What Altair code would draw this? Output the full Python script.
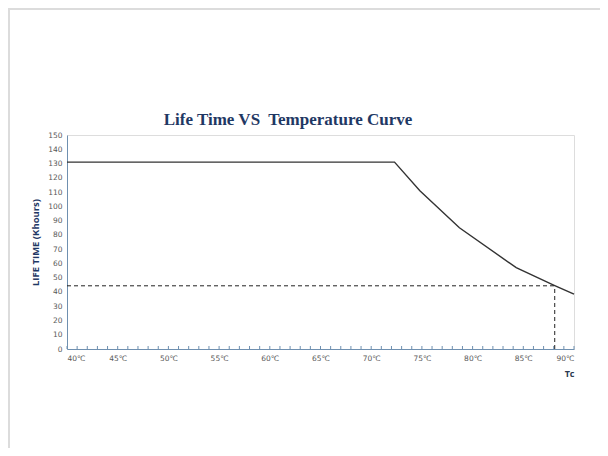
import altair as alt
import pandas as pd

# Curve data
temps = [40, 72.3, 74.8, 78.7, 84.3, 88.1, 90]
life = [131, 131, 111, 85, 57, 44.5, 38.5]

# Marked operating point (dashed guide lines)
mark_temp = 88.1
mark_life = 44.3

x_label_values = [40, 45, 50, 55, 60, 65, 70, 75, 80, 85, 90]
y_label_values = [0, 10, 20, 30, 40, 50, 60, 70, 80, 90, 100, 110, 120, 130, 140, 150]
minor_ticks = list(range(40, 91))
chart_title = "Life Time VS\u00a0 Temperature Curve"

W, H = 507, 214
AXIS_COLOR = "#6f90b0"
NAVY = "#1f3864"

curve_df = pd.DataFrame({"t": temps, "life": life})
hdash_df = pd.DataFrame({"t": [40], "t2": [mark_temp], "life": [mark_life]})
vdash_df = pd.DataFrame({"t": [mark_temp], "life": [0], "life2": [mark_life]})
tick_df = pd.DataFrame({"t": minor_ticks})

xscale = alt.Scale(domain=[40, 90], nice=False, zero=False)
yscale = alt.Scale(domain=[0, 150], nice=False)

xaxis = alt.Axis(
    values=x_label_values,
    labelExpr="datum.value + '℃'",
    labelOverlap=False,
    ticks=False,
    grid=False,
    domainColor=AXIS_COLOR,
    labelColor="#595959",
    labelFont="DejaVu Sans",
    labelFontSize=7.5,
    labelPadding=5,
    title="Tc",
    titleAnchor="end",
    titleFont="Open Sans",
    titleFontSize=9,
    titleFontWeight="bold",
    titleColor="#2b3a4f",
    titlePadding=8,
)
yaxis = alt.Axis(
    values=y_label_values,
    labelOverlap=False,
    tickCount=16,
    ticks=False,
    grid=False,
    domainColor=AXIS_COLOR,
    labelColor="#595959",
    labelFont="DejaVu Sans",
    labelFontSize=7.5,
    labelPadding=5,
    title="LIFE TIME (Khours)",
    titleFont="Open Sans",
    titleFontSize=9.5,
    titleFontWeight="bold",
    titleColor=NAVY,
    titlePadding=7,
)

curve = alt.Chart(curve_df).mark_line(color="#333333", strokeWidth=1.4).encode(
    x=alt.X("t:Q", scale=xscale, axis=xaxis),
    y=alt.Y("life:Q", scale=yscale, axis=yaxis),
)

hdash = alt.Chart(hdash_df).mark_rule(color="#222222", strokeWidth=1, strokeDash=[4, 3]).encode(
    x=alt.X("t:Q", scale=xscale, axis=xaxis),
    x2="t2:Q",
    y=alt.Y("life:Q", scale=yscale, axis=yaxis),
)
vdash = alt.Chart(vdash_df).mark_rule(color="#222222", strokeWidth=1, strokeDash=[4, 3]).encode(
    x=alt.X("t:Q", scale=xscale, axis=xaxis),
    y=alt.Y("life:Q", scale=yscale, axis=yaxis),
    y2="life2:Q",
)

ticks = alt.Chart(tick_df).mark_rule(color=AXIS_COLOR, strokeWidth=1).encode(
    x=alt.X("t:Q", scale=xscale, axis=xaxis),
    y=alt.value(H - 3),
    y2=alt.value(H),
)

one = pd.DataFrame({"a": [0]})

# chart title as a text mark (page frame would push a regular title off the page)
title = alt.Chart(pd.DataFrame({"title": [chart_title]})).mark_text(
    font="Liberation Serif",
    fontSize=17,
    fontWeight="bold",
    color=NAVY,
    align="center",
    baseline="alphabetic",
).encode(text="title:N", x=alt.value(221), y=alt.value(-10))

# light gray page frame (decoration)
frame_top = alt.Chart(one).mark_rule(color="#dcdcdc", strokeWidth=2).encode(
    x=alt.value(-58), x2=alt.value(540), y=alt.value(-126)
)
frame_left = alt.Chart(one).mark_rule(color="#dcdcdc", strokeWidth=2).encode(
    x=alt.value(-58), y=alt.value(-127), y2=alt.value(320)
)

chart = (
    alt.layer(curve, frame_top, frame_left, title, ticks, hdash, vdash)
    .properties(
        width=W,
        height=H,
        autosize=alt.AutoSizeParams(type="none"),
        padding={"left": 59, "top": 127, "right": 26, "bottom": 99},
    )
    .configure_view(stroke=AXIS_COLOR, strokeWidth=1)
    .configure(background="white")
)

chart.save("out.html", embed_options={"renderer": "svg", "actions": False})
